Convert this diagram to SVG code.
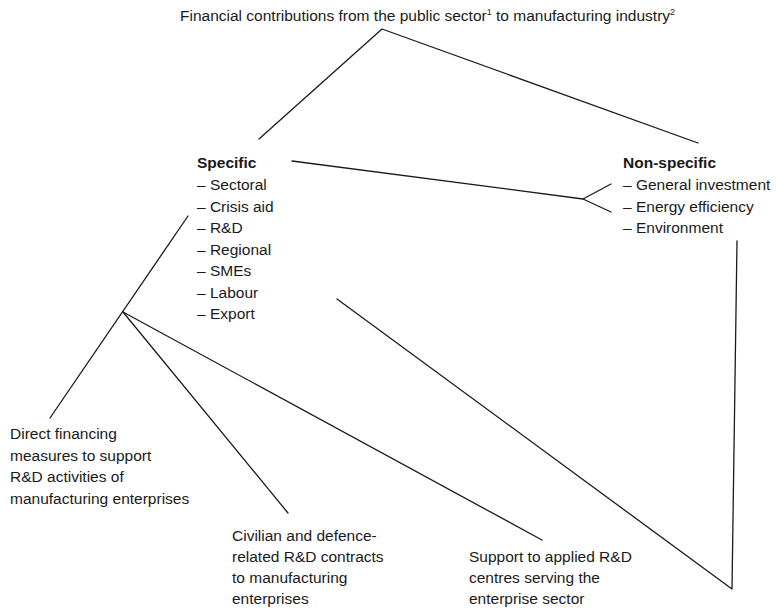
<svg xmlns="http://www.w3.org/2000/svg" width="776" height="609" viewBox="0 0 776 609">
  <style>
    text { font-family: "Liberation Sans", Arial, sans-serif; font-size: 15.5px; fill: #1a1a1a; }
    .head { font-weight: bold; }
    .sup { font-size: 9px; }
    .link { stroke: #1a1a1a; stroke-width: 1.3; fill: none; stroke-linecap: round; stroke-linejoin: round; }
  </style>
  <rect width="776" height="609" fill="#ffffff"/>

  <!-- connectors -->
  <g id="connectors">
    <polyline class="link" points="259,139 382,29 698,143"/>
    <line class="link" x1="292" y1="161" x2="583" y2="199"/>
    <polyline class="link" points="611,184 583,199 611,212"/>
    <polyline class="link" points="737,241 732,589 337,299"/>
    <line class="link" x1="188" y1="216" x2="50" y2="418"/>
    <line class="link" x1="123" y1="312" x2="288" y2="513"/>
    <line class="link" x1="123" y1="312" x2="542" y2="540"/>
  </g>

  <g id="root">
    <text x="180" y="21">Financial contributions from the public sector<tspan class="sup" dy="-6">1</tspan><tspan dy="6"> to manufacturing industry</tspan><tspan class="sup" dy="-6">2</tspan></text>
  </g>

  <g id="specific">
    <text class="head" x="197" y="168">Specific</text>
    <text x="197" y="190">– Sectoral</text>
    <text x="197" y="211.5">– Crisis aid</text>
    <text x="197" y="233">– R&amp;D</text>
    <text x="197" y="254.5">– Regional</text>
    <text x="197" y="276">– SMEs</text>
    <text x="197" y="297.5">– Labour</text>
    <text x="197" y="319">– Export</text>
  </g>

  <g id="non-specific">
    <text class="head" x="623" y="168">Non-specific</text>
    <text x="623" y="190">– General investment</text>
    <text x="623" y="211.5">– Energy efficiency</text>
    <text x="623" y="233">– Environment</text>
  </g>

  <g id="direct-financing">
    <text x="10" y="439">Direct financing</text>
    <text x="10" y="460.5">measures to support</text>
    <text x="10" y="482">R&amp;D activities of</text>
    <text x="10" y="503.5">manufacturing enterprises</text>
  </g>

  <g id="rd-contracts">
    <text x="232" y="541">Civilian and defence-</text>
    <text x="232" y="562">related R&amp;D contracts</text>
    <text x="232" y="583">to manufacturing</text>
    <text x="232" y="604">enterprises</text>
  </g>

  <g id="rd-centres">
    <text x="469" y="562">Support to applied R&amp;D</text>
    <text x="469" y="583">centres serving the</text>
    <text x="469" y="604">enterprise sector</text>
  </g>
</svg>
